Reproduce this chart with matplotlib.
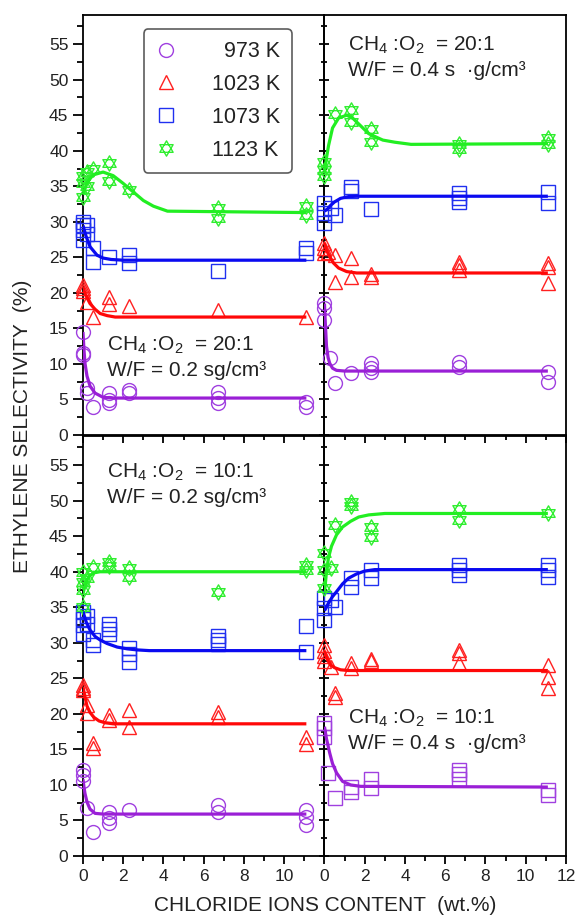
import numpy as np
import matplotlib
matplotlib.use("Agg")
import matplotlib.pyplot as plt
from matplotlib.path import Path
from matplotlib.ticker import MultipleLocator

plt.rcParams['font.family'] = ['Liberation Sans', 'DejaVu Sans']
plt.rcParams['mathtext.fontset'] = 'custom'
plt.rcParams['mathtext.rm'] = 'Liberation Sans'
plt.rcParams['mathtext.it'] = 'Liberation Sans'
plt.rcParams['mathtext.default'] = 'regular'

# ---------------- data ----------------
temps = ['973 K', '1023 K', '1073 K', '1123 K']

# panel a : CH4:O2 = 20:1, W/F = 0.2
a973_x = [0, 0, 0, 0.2, 0.2, 0.5, 1.3, 1.3, 1.3, 2.3, 2.3, 6.7, 6.7, 6.7, 11.1, 11.1]
a973_y = [14.5, 11.5, 11.2, 6.6, 5.9, 4.0, 5.9, 4.9, 4.5, 6.3, 5.9, 6.1, 5.2, 4.5, 4.7, 4.0]
a1023_x = [0, 0, 0, 0.2, 0.5, 1.3, 1.3, 2.3, 6.7, 11.1]
a1023_y = [21.1, 20.7, 20.3, 18.7, 16.6, 19.4, 18.5, 18.1, 17.6, 16.6]
a1073_x = [0, 0, 0, 0, 0.2, 0.2, 0.5, 0.5, 1.3, 2.3, 2.3, 6.7, 11.1, 11.1]
a1073_y = [30.0, 29.5, 28.8, 27.4, 29.5, 28.3, 26.3, 24.4, 25.1, 25.3, 24.2, 23.1, 26.3, 25.6]
a1123_x = [0, 0, 0, 0.2, 0.2, 0.5, 1.3, 1.3, 2.3, 6.7, 6.7, 11.1, 11.1]
a1123_y = [36.5, 35.5, 33.5, 37.0, 35.0, 37.5, 38.3, 35.7, 34.5, 32.0, 30.5, 32.2, 31.0]

# panel b : CH4:O2 = 20:1, W/F = 0.4
b973_x = [0, 0, 0, 0.25, 0.5, 1.3, 2.3, 2.3, 2.3, 6.7, 6.7, 11.1, 11.1]
b973_y = [18.6, 17.9, 16.2, 10.8, 7.3, 8.7, 10.1, 9.4, 8.8, 10.3, 9.6, 8.8, 7.5]
b1023_x = [0, 0, 0, 0.2, 0.5, 0.5, 1.3, 1.3, 2.3, 2.3, 6.7, 6.7, 6.7, 11.1, 11.1, 11.1]
b1023_y = [27.0, 26.3, 25.6, 25.8, 25.4, 21.5, 24.9, 22.2, 22.6, 22.2, 24.4, 23.9, 23.2, 24.2, 23.6, 21.4]
b1073_x = [0, 0, 0, 0.3, 0.5, 1.3, 1.3, 2.3, 6.7, 6.7, 6.7, 11.1, 11.1]
b1073_y = [32.6, 31.2, 29.8, 31.9, 31.0, 34.9, 34.3, 31.8, 34.0, 33.3, 32.8, 34.2, 32.6]
b1123_x = [0, 0, 0, 0.5, 1.3, 1.3, 2.3, 2.3, 6.7, 6.7, 11.1, 11.1]
b1123_y = [38.4, 37.3, 36.5, 45.2, 45.7, 44.1, 43.1, 41.3, 41.0, 40.3, 41.8, 41.0]

# panel c : CH4:O2 = 10:1, W/F = 0.2
c973_x = [0, 0, 0, 0.2, 0.5, 1.3, 1.3, 1.3, 2.3, 6.7, 6.7, 11.1, 11.1, 11.1]
c973_y = [12.1, 11.4, 10.5, 6.7, 3.4, 6.2, 5.3, 4.6, 6.5, 7.2, 6.2, 6.5, 5.5, 4.4]
c1023_x = [0, 0, 0, 0.2, 0.2, 0.5, 0.5, 1.3, 1.3, 2.3, 2.3, 6.7, 6.7, 11.1, 11.1]
c1023_y = [24.0, 23.6, 23.3, 21.2, 20.1, 15.9, 15.2, 19.8, 19.2, 20.6, 18.1, 20.3, 19.6, 16.8, 15.8]
c1073_x = [0, 0, 0, 0, 0.2, 0.2, 0.5, 0.5, 1.3, 1.3, 1.3, 2.3, 2.3, 2.3, 6.7, 6.7, 6.7, 11.1, 11.1]
c1073_y = [34.4, 33.4, 32.5, 31.3, 33.8, 32.6, 30.4, 29.7, 32.6, 31.9, 31.2, 29.2, 28.4, 27.3, 31.0, 30.4, 29.9, 32.3, 28.7]
c1123_x = [0, 0, 0, 0, 0.2, 0.5, 1.3, 1.3, 2.3, 2.3, 6.7, 11.1, 11.1]
c1123_y = [40.0, 38.6, 37.4, 35.1, 39.1, 40.7, 41.4, 40.8, 40.5, 39.3, 37.2, 40.9, 40.2]

# panel d : CH4:O2 = 10:1, W/F = 0.4
d973_x = [0, 0, 0, 0.2, 0.5, 1.3, 1.3, 2.3, 2.3, 6.7, 6.7, 6.7, 11.1, 11.1]
d973_y = [18.7, 18.0, 16.8, 11.7, 8.2, 9.7, 9.0, 10.9, 9.5, 12.1, 11.5, 10.9, 9.3, 8.6]
d1023_x = [0, 0, 0, 0, 0.3, 0.5, 0.5, 1.3, 1.3, 2.3, 2.3, 6.7, 6.7, 6.7, 11.1, 11.1, 11.1]
d1023_y = [29.7, 28.9, 28.2, 27.4, 26.6, 23.0, 22.4, 27.1, 26.4, 27.7, 27.4, 29.0, 28.5, 27.1, 26.9, 25.2, 23.6]
d1073_x = [0, 0, 0, 0.3, 0.5, 1.3, 1.3, 2.3, 2.3, 6.7, 6.7, 6.7, 11.1, 11.1, 11.1]
d1073_y = [36.3, 34.9, 33.2, 36.0, 35.1, 39.1, 37.9, 40.2, 39.1, 40.9, 40.2, 39.5, 40.9, 40.2, 39.3]
d1123_x = [0, 0, 0, 0.3, 0.5, 1.3, 1.3, 2.3, 2.3, 6.7, 6.7, 11.1]
d1123_y = [42.6, 40.2, 37.7, 40.5, 46.6, 49.8, 49.3, 46.3, 44.9, 48.9, 47.3, 48.2]

# fitted curves
a973_cx = [0, 0.05, 0.1, 0.2, 0.35, 0.6, 1.0, 1.5, 11.1]
a973_cy = [14.5, 12.0, 10.1, 8.3, 6.9, 5.9, 5.3, 5.2, 5.2]
a1023_cx = [0, 0.15, 0.35, 0.6, 0.85, 1.2, 1.6, 11.1]
a1023_cy = [20.8, 19.6, 18.5, 17.7, 17.1, 16.8, 16.6, 16.6]
a1073_cx = [0, 0.15, 0.35, 0.7, 1.0, 1.4, 2.0, 11.1]
a1073_cy = [29.5, 28.0, 26.5, 25.3, 24.9, 24.7, 24.6, 24.6]
a1123_cx = [0, 0.2, 0.5, 1.0, 1.5, 2.0, 2.5, 3.0, 3.5, 4.2, 11.1]
a1123_cy = [33.8, 35.5, 36.6, 37.0, 36.5, 35.4, 34.2, 33.0, 32.2, 31.5, 31.3]

b973_cx = [0, 0.03, 0.06, 0.1, 0.18, 0.26, 0.4, 0.6, 1.0, 11.1]
b973_cy = [18.5, 16.5, 14.8, 12.5, 10.9, 10.1, 9.4, 9.1, 9.0, 9.0]
b1023_cx = [0, 0.1, 0.26, 0.45, 0.7, 1.1, 1.6, 11.1]
b1023_cy = [27.0, 26.0, 25.1, 24.2, 23.5, 23.0, 22.8, 22.8]
b1073_cx = [0, 0.15, 0.3, 0.5, 0.8, 1.2, 1.6, 11.1]
b1073_cy = [31.5, 31.8, 32.3, 32.8, 33.3, 33.55, 33.6, 33.6]
b1123_cx = [0, 0.1, 0.2, 0.4, 0.7, 1.1, 1.4, 1.8, 2.2, 2.9, 3.5, 4.3, 11.1]
b1123_cy = [36.8, 39.0, 40.7, 43.2, 44.6, 45.0, 44.6, 43.5, 42.4, 41.5, 41.2, 40.9, 41.0]

c973_cx = [0, 0.05, 0.1, 0.2, 0.35, 0.6, 1.0, 11.1]
c973_cy = [10.8, 9.7, 8.8, 7.6, 6.6, 6.0, 5.9, 5.9]
c1023_cx = [0, 0.1, 0.2, 0.35, 0.55, 0.8, 1.1, 1.5, 11.1]
c1023_cy = [23.8, 22.4, 21.1, 20.2, 19.5, 19.0, 18.75, 18.6, 18.6]
c1073_cx = [0, 0.15, 0.35, 0.6, 0.85, 1.2, 1.7, 2.2, 2.7, 3.3, 11.1]
c1073_cy = [34.4, 33.0, 31.8, 30.9, 30.4, 29.9, 29.4, 29.15, 29.0, 28.9, 28.9]
c1123_cx = [0, 0.1, 0.2, 0.35, 0.55, 0.85, 11.1]
c1123_cy = [36.9, 38.0, 38.9, 39.5, 39.85, 40.0, 40.0]

d973_cx = [0, 0.1, 0.26, 0.4, 0.6, 0.9, 1.3, 1.8, 11.1]
d973_cy = [18.2, 16.5, 14.5, 13.0, 11.7, 10.5, 10.0, 9.8, 9.7]
d1023_cx = [0, 0.15, 0.3, 0.5, 0.8, 1.2, 11.1]
d1023_cy = [28.8, 27.6, 26.9, 26.5, 26.2, 26.1, 26.1]
d1073_cx = [0, 0.2, 0.4, 0.6, 0.9, 1.2, 1.6, 2.0, 2.5, 11.1]
d1073_cy = [34.5, 35.6, 36.5, 37.2, 38.3, 39.1, 39.7, 40.1, 40.3, 40.3]
d1123_cx = [0, 0.1, 0.2, 0.35, 0.6, 0.9, 1.3, 1.7, 2.2, 3.0, 11.1]
d1123_cy = [37.0, 40.0, 42.0, 43.6, 45.2, 46.3, 47.1, 47.7, 48.0, 48.2, 48.2]

notes = ['CH$_4$ :O$_2$  = 20:1\nW/F = 0.2 sg/cm\u00b3',
         'CH$_4$ :O$_2$  = 20:1\nW/F = 0.4 s  \u00b7g/cm\u00b3',
         'CH$_4$ :O$_2$  = 10:1\nW/F = 0.2 sg/cm\u00b3',
         'CH$_4$ :O$_2$  = 10:1\nW/F = 0.4 s  \u00b7g/cm\u00b3']

# ---------------- styles ----------------
# six pointed star = two overlapping triangles
star_verts = [(0, 1), (-0.866, -0.5), (0.866, -0.5), (0, 1),
              (0, -1), (0.866, 0.5), (-0.866, 0.5), (0, -1)]
star_codes = [Path.MOVETO, Path.LINETO, Path.LINETO, Path.CLOSEPOLY] * 2
hexagram = Path(star_verts, star_codes)

line_cols = ['#9A1FD6', '#FF0808', '#0A0AF0', '#22EE22']
mark_cols = ['#A040E0', '#FF2020', '#2030F0', '#30EE30']
markers = ['o', '^', 's', hexagram]
msizes = [10, 10, 9.5, 11]

panels = [
    ([a973_x, a1023_x, a1073_x, a1123_x], [a973_y, a1023_y, a1073_y, a1123_y],
     [a973_cx, a1023_cx, a1073_cx, a1123_cx], [a973_cy, a1023_cy, a1073_cy, a1123_cy]),
    ([b973_x, b1023_x, b1073_x, b1123_x], [b973_y, b1023_y, b1073_y, b1123_y],
     [b973_cx, b1023_cx, b1073_cx, b1123_cx], [b973_cy, b1023_cy, b1073_cy, b1123_cy]),
    ([c973_x, c1023_x, c1073_x, c1123_x], [c973_y, c1023_y, c1073_y, c1123_y],
     [c973_cx, c1023_cx, c1073_cx, c1123_cx], [c973_cy, c1023_cy, c1073_cy, c1123_cy]),
    ([d973_x, d1023_x, d1073_x, d1123_x], [d973_y, d1023_y, d1073_y, d1123_y],
     [d973_cx, d1023_cx, d1073_cx, d1123_cx], [d973_cy, d1023_cy, d1073_cy, d1123_cy]),
]

# axes rectangles in figure fraction
W = 0.4200
H = 0.4585
rects = [(0.1443, 0.5251, W, H), (0.5643, 0.5251, W, H),
         (0.1443, 0.0655, W, H), (0.5643, 0.0655, W, H)]
note_pos = [(0.099, 0.185), (0.099, 0.90), (0.099, 0.885), (0.099, 0.30)]

fig = plt.figure(figsize=(5.75, 9.16), dpi=100)
axes = []
for i, rect in enumerate(rects):
    ax = fig.add_axes(rect)
    ax.patch.set_visible(False)
    axes.append(ax)
    xs, ys, cxs, cys = panels[i]
    for k in range(4):
        mk = markers[k]
        if i == 3 and k == 0:
            mk = 's'   # this panel uses squares for 973 K
        ax.plot(xs[k], ys[k], linestyle='none', marker=mk, ms=msizes[k],
                mfc='none', mec=mark_cols[k], mew=1.0, clip_on=False,
                label=temps[k], zorder=3)
        ax.plot(cxs[k], cys[k], color=line_cols[k], lw=2.3, zorder=4,
                solid_capstyle='butt')
    ax.set_xlim(0, 12)
    ax.set_ylim(0, 59.1)
    ax.xaxis.set_major_locator(MultipleLocator(2))
    ax.xaxis.set_minor_locator(MultipleLocator(1))
    ax.yaxis.set_major_locator(MultipleLocator(5))
    ax.yaxis.set_minor_locator(MultipleLocator(2.5))
    for sp in ax.spines.values():
        sp.set_linewidth(1.3)
    ax.tick_params(axis='x', which='both', direction='out', top=False,
                   labelsize=12.5, labelcolor='#222222', width=1.3)
    ax.tick_params(axis='x', which='major', length=6)
    ax.tick_params(axis='x', which='minor', length=3.5)
    if i % 2 == 0:
        ax.tick_params(axis='y', which='both', direction='out', right=False,
                       labelsize=12.5, labelcolor='#222222', width=1.3)
    else:
        ax.tick_params(axis='y', which='both', direction='inout', right=False,
                       labelleft=False, width=1.3)
    ax.tick_params(axis='y', which='major', length=7)
    ax.tick_params(axis='y', which='minor', length=4)
    if i < 2:
        ax.tick_params(axis='x', labelbottom=False)
    if i == 2:
        ax.set_xticks([0, 2, 4, 6, 8, 10])
        ax.set_xticks(np.arange(1, 12, 1), minor=True)
        ax.set_xlim(0, 12)
    ax.text(note_pos[i][0], note_pos[i][1], notes[i], transform=ax.transAxes,
            fontsize=15, color='#222222', ha='left', va='center',
            linespacing=1.35)

# legend in first panel, labels padded so they line up on the right
h, l = axes[0].get_legend_handles_labels()
leg_labels = ['  973 K', '1023 K', '1073 K', '1123 K']
leg = axes[0].legend(h, leg_labels, loc='upper left', bbox_to_anchor=(0.252, 0.966),
                     fontsize=15.5, frameon=True, fancybox=True, edgecolor='#333333',
                     handlelength=1.0, handletextpad=1.6, labelspacing=0.55,
                     borderpad=0.55, borderaxespad=0, numpoints=1)
leg.get_frame().set_linewidth(1.2)
for t in leg.get_texts():
    t.set_color('#222222')

fig.text(0.04, 0.535, 'ETHYLENE SELECTIVITY  (%)', rotation=90, ha='center',
         va='center', fontsize=15, color='#222222')
fig.text(0.565, 0.012, 'CHLORIDE IONS CONTENT  (wt.%)', ha='center',
         va='center', fontsize=15, color='#222222')

fig.savefig('out.png', dpi=100, facecolor='white')
